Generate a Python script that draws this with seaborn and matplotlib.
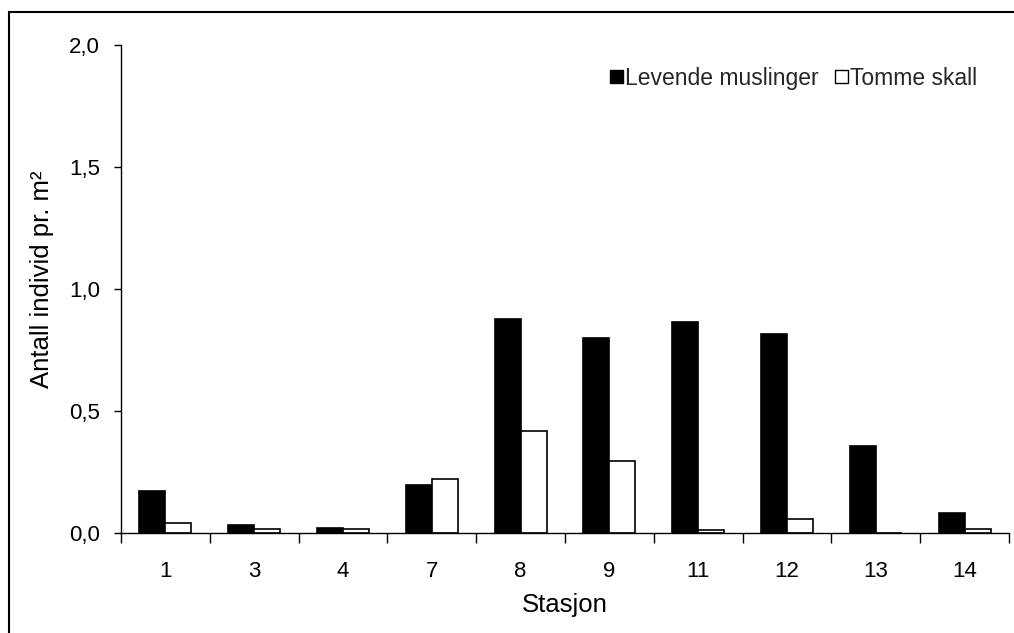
import numpy as np
import pandas as pd
import matplotlib
matplotlib.use("Agg")
import matplotlib.pyplot as plt
import seaborn as sns
from matplotlib.patches import Patch, Rectangle
from matplotlib.ticker import FuncFormatter

stations = ["1", "3", "4", "7", "8", "9", "11", "12", "13", "14"]
levende = [0.172, 0.034, 0.022, 0.198, 0.879, 0.800, 0.865, 0.814, 0.355, 0.081]
tomme = [0.040, 0.015, 0.015, 0.223, 0.418, 0.295, 0.014, 0.059, 0.0, 0.015]
series_names = ["Levende muslinger", "Tomme skall"]
yticks = [0.0, 0.5, 1.0, 1.5, 2.0]

df = pd.DataFrame({
    "Stasjon": stations * 2,
    "verdi": levende + tomme,
    "serie": [series_names[0]] * len(stations) + [series_names[1]] * len(stations),
})

sns.set_theme(style="white")
plt.rcParams["font.family"] = ["Liberation Sans", "DejaVu Sans"]

fig = plt.figure(figsize=(10.14, 6.33), dpi=100)
ax = fig.add_axes([121 / 1014, 1 - 533 / 633, (1009 - 121) / 1014, (533 - 45) / 633])

sns.barplot(data=df, x="Stasjon", y="verdi", hue="serie", order=stations,
            hue_order=series_names, palette=["black", "white"], width=0.585,
            edgecolor="black", linewidth=1.2, dodge=True, ax=ax, legend=False,
            saturation=1)

ax.set_xlim(-0.5, len(stations) - 0.5)
ax.set_ylim(0, 2.0)
ax.set_yticks(yticks)
ax.yaxis.set_major_formatter(FuncFormatter(lambda v, p: f"{v:.1f}".replace(".", ",")))

ax.set_xticks(np.arange(-0.5, len(stations)), [""] * (len(stations) + 1))
ax.set_xticks(np.arange(len(stations)), stations, minor=True)
ax.tick_params(axis="x", which="major", direction="out", length=7, width=1, color="black", bottom=True)
ax.tick_params(axis="x", which="minor", length=0, labelsize=16, pad=20, colors="black")
ax.tick_params(axis="y", direction="out", length=5, width=1, color="black", left=True,
               labelsize=16, pad=10, colors="black")

for s in ["top", "right"]:
    ax.spines[s].set_visible(False)
for s in ["left", "bottom"]:
    ax.spines[s].set_color("black")
    ax.spines[s].set_linewidth(1)

ax.set_xlabel("Stasjon", fontsize=18.5, labelpad=8, color="black")
ax.set_ylabel("Antall individ pr. m²", fontsize=18.5, color="black")
ax.yaxis.set_label_coords(-0.076, 0.52)

handles = [Patch(facecolor="black", edgecolor="black", linewidth=1),
           Patch(facecolor="white", edgecolor="black", linewidth=1)]
ax.legend(handles, series_names, loc="center right", bbox_to_anchor=(0.964, 0.932),
          ncol=2, frameon=False, fontsize=16.5, handlelength=0.55, handleheight=0.55,
          handletextpad=0.1, columnspacing=0.7, borderaxespad=0, borderpad=0)

fig.patches.append(Rectangle((9 / 1014, -0.1), 1.2, 1 - 12 / 633 + 0.1,
                             transform=fig.transFigure, fill=False,
                             edgecolor="black", linewidth=1.5))

fig.savefig("out.png", dpi=100)
